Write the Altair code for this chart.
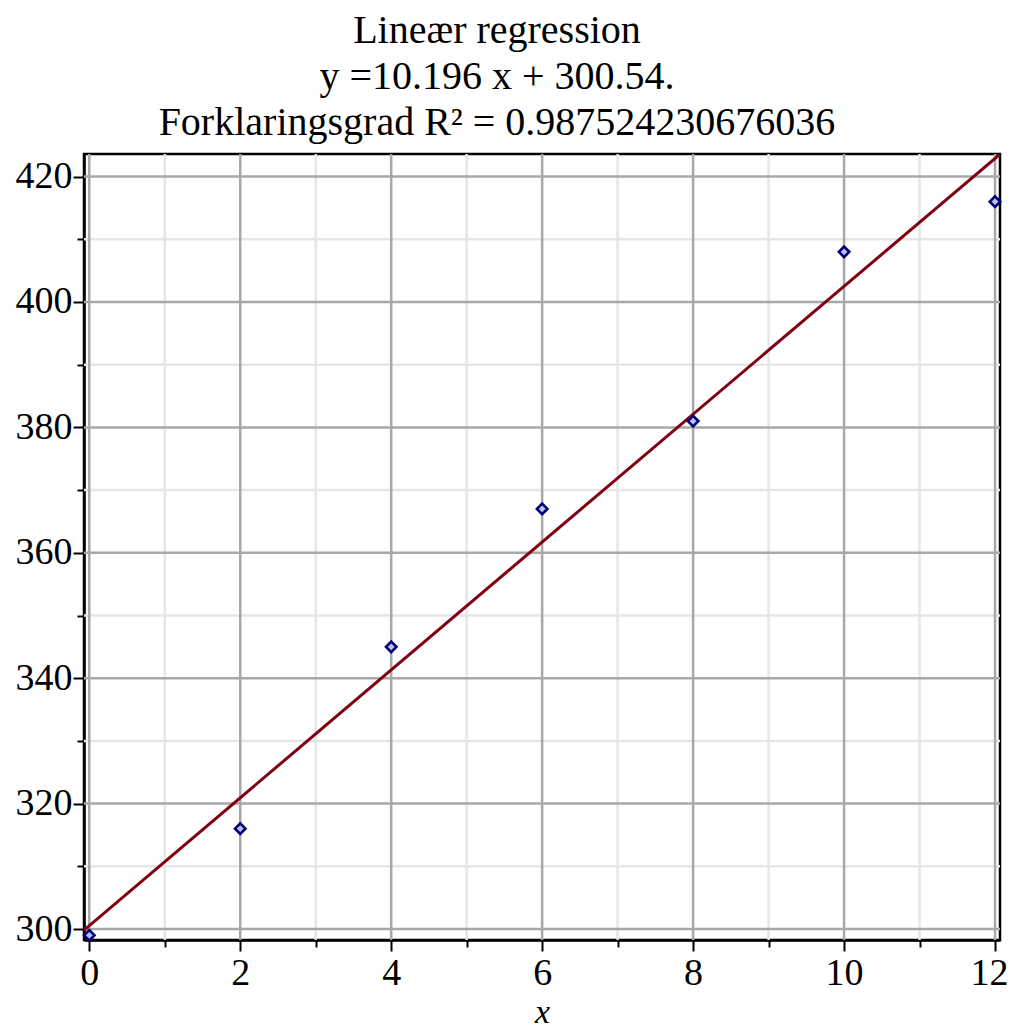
import altair as alt
import pandas as pd

# Data
x_vals = [0, 2, 4, 6, 8, 10, 12]
y_vals = [299, 316, 345, 367, 381, 408, 416]

# Grid / tick values
x_major = [0, 2, 4, 6, 8, 10, 12]
x_minor = [1, 3, 5, 7, 9, 11]
y_major = [300, 320, 340, 360, 380, 400, 420]
y_minor = [310, 330, 350, 370, 390, 410]
x_ticks = list(range(0, 13))
y_ticks = list(range(300, 421, 10))

x_domain = [-0.07, 12.066]
y_domain = [298.25, 423.6]

title_lines = [
    "Lineær regression",
    "y =10.196 x + 300.54.",
    "Forklaringsgrad R² = 0.987524230676036",
]

FONT = "Liberation Serif"
pts = pd.DataFrame({"x": x_vals, "y": y_vals})

xs = alt.Scale(domain=x_domain, nice=False, zero=False)
ys = alt.Scale(domain=y_domain, nice=False, zero=False)

x_axis = alt.Axis(
    values=x_ticks,
    labelExpr="datum.value % 2 === 0 ? datum.label : ''",
    tickSize={"condition": {"test": "datum.value % 2 === 0", "value": 11}, "value": 7},
    labelOffset={"condition": {"test": "datum.value === 12", "value": -6}, "value": 0},
    grid=False,
    domainColor="black", domainWidth=2.5,
    tickColor="black", tickWidth=2,
    labelFont=FONT, labelFontSize=38, labelColor="black", labelPadding=3,
    labelFlush=False,
    title="x", titleFont=FONT, titleFontSize=34, titleFontStyle="italic",
    titleFontWeight="normal", titleColor="black",
    titleBaseline="alphabetic", titleY=82,
)
y_axis = alt.Axis(
    values=y_ticks,
    labelExpr="datum.value % 20 === 0 ? datum.label : ''",
    tickSize={"condition": {"test": "datum.value % 20 === 0", "value": 11}, "value": 7},
    grid=False,
    domainColor="black", domainWidth=2.5,
    tickColor="black", tickWidth=2,
    labelFont=FONT, labelFontSize=38, labelColor="black", labelPadding=1,
    labelFlush=False,
    title=None,
)

X = alt.X("x:Q", scale=xs, axis=x_axis)
Y = alt.Y("y:Q", scale=ys, axis=y_axis)

minor_v = alt.Chart(pd.DataFrame({"x": x_minor})).mark_rule(
    color="#e6e6e6", strokeWidth=2.5).encode(x=X)
minor_h = alt.Chart(pd.DataFrame({"y": y_minor})).mark_rule(
    color="#e6e6e6", strokeWidth=2.5).encode(y=Y)
major_v = alt.Chart(pd.DataFrame({"x": x_major})).mark_rule(
    color="#a8a8a8", strokeWidth=2.5).encode(x=X)
major_h = alt.Chart(pd.DataFrame({"y": y_major})).mark_rule(
    color="#a8a8a8", strokeWidth=2.5).encode(y=Y)

reg = alt.Chart(pts).transform_regression(
    "x", "y", extent=x_domain
).mark_line(color="#800014", strokeWidth=3, clip=True).encode(x=X, y=Y)

points = alt.Chart(pts).mark_point(
    shape="diamond", filled=True, fill="#b8c0e6", stroke="#00007a",
    strokeWidth=2.6, size=110, opacity=1,
).encode(x=X, y=Y)

chart = alt.layer(minor_v, minor_h, major_v, major_h, reg, points).properties(
    width=916,
    height=786,
    title=alt.TitleParams(
        text=title_lines, font=FONT, fontSize=40, fontWeight="normal",
        lineHeight=46, anchor="middle", dx=-45, offset=10, color="black",
    ),
    autosize=alt.AutoSizeParams(type="none"),
    padding={"left": 76, "top": 146, "right": 8, "bottom": 88},
).configure_view(stroke="black", strokeWidth=2.5)

chart.save("out.html", embed_options={"renderer": "svg", "actions": False})
